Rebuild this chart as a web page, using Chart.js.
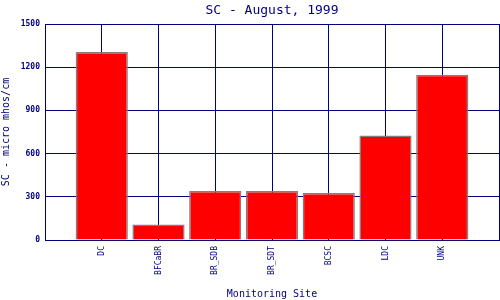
<!DOCTYPE html>
<html>
<head>
<meta charset="utf-8">
<script src="https://cdn.jsdelivr.net/npm/chart.js@4/dist/chart.umd.min.js"></script>
<style>
  html, body { margin: 0; padding: 0; background: #fff; }
  #wrap { width: 500px; height: 300px; }
</style>
</head>
<body>
<div id="wrap"><canvas id="barChart"></canvas></div>
<script>
const sites = ['DC', 'BFCaBR', 'BR_SDB', 'BR_SDT', 'BCSC', 'LDC', 'UNK'];
const scValues = [1305, 108, 340, 340, 327, 726, 1148];
const yTicks = [0, 300, 600, 900, 1200, 1500];

const navy = '#000080';
const mono = "'DejaVu Sans Mono', 'Liberation Mono', monospace";

function drawBarChart() {
  let ctx = document.getElementById('barChart').getContext('2d');
  let points = sites.map((s, i) => ({ x: i + 1, y: scValues[i] }));

  let config = {
    type: 'bar',
    data: {
      datasets: [{
        data: points,
        backgroundColor: '#ff0000',
        borderColor: '#808080',
        borderWidth: 1.5,
        barPercentage: 0.92,
        categoryPercentage: 1
      }]
    },
    options: {
      responsive: true,
      maintainAspectRatio: false,
      animation: false,
      layout: { padding: { right: 1 } },
      plugins: {
        legend: { display: false },
        tooltip: { enabled: false }
      },
      scales: {
        x: {
          type: 'linear',
          offset: false,
          min: 0,
          max: sites.length + 1,
          afterBuildTicks: scale => {
            scale.ticks = [];
            for (let v = 0; v <= sites.length + 1; v++) scale.ticks.push({ value: v });
          },
          afterFit: scale => {
            scale.height = 60;
            scale.paddingLeft = 0;
            scale.paddingRight = 0;
          },
          ticks: {
            autoSkip: false,
            minRotation: 90,
            maxRotation: 90,
            padding: 6,
            color: navy,
            font: { family: mono, size: 8 },
            callback: v => sites[v - 1] || ''
          },
          grid: { color: navy, lineWidth: 1, drawTicks: false, offset: false },
          border: { color: navy, width: 1 },
          title: {
            display: true,
            text: 'Monitoring Site',
            color: navy,
            font: { family: mono, size: 10 },
            padding: { top: 0, bottom: 0 }
          }
        },
        top: {
          type: 'linear',
          position: 'top',
          min: 0,
          max: 1,
          afterFit: scale => { scale.height = 24; },
          ticks: { display: false },
          grid: { display: false, drawTicks: false },
          border: { display: false },
          title: {
            display: true,
            text: 'SC - August, 1999',
            color: navy,
            font: { family: mono, size: 13 },
            padding: { top: 3, bottom: 0 }
          }
        },
        y: {
          min: 0,
          max: 1500,
          afterBuildTicks: scale => { scale.ticks = yTicks.map(v => ({ value: v })); },
          afterFit: scale => { scale.width = 45; },
          ticks: {
            padding: 5,
            color: navy,
            font: { family: mono, size: 8, weight: 'bold' },
            callback: v => String(v)
          },
          grid: { color: navy, lineWidth: 1, drawTicks: false },
          border: { color: navy, width: 1 },
          title: {
            display: true,
            text: 'SC - micro mhos/cm',
            color: navy,
            font: { family: mono, size: 10 },
            padding: { top: 0, bottom: 0 }
          }
        }
      }
    }
  };

  new Chart(ctx, config);
}

drawBarChart();
</script>
</body>
</html>
